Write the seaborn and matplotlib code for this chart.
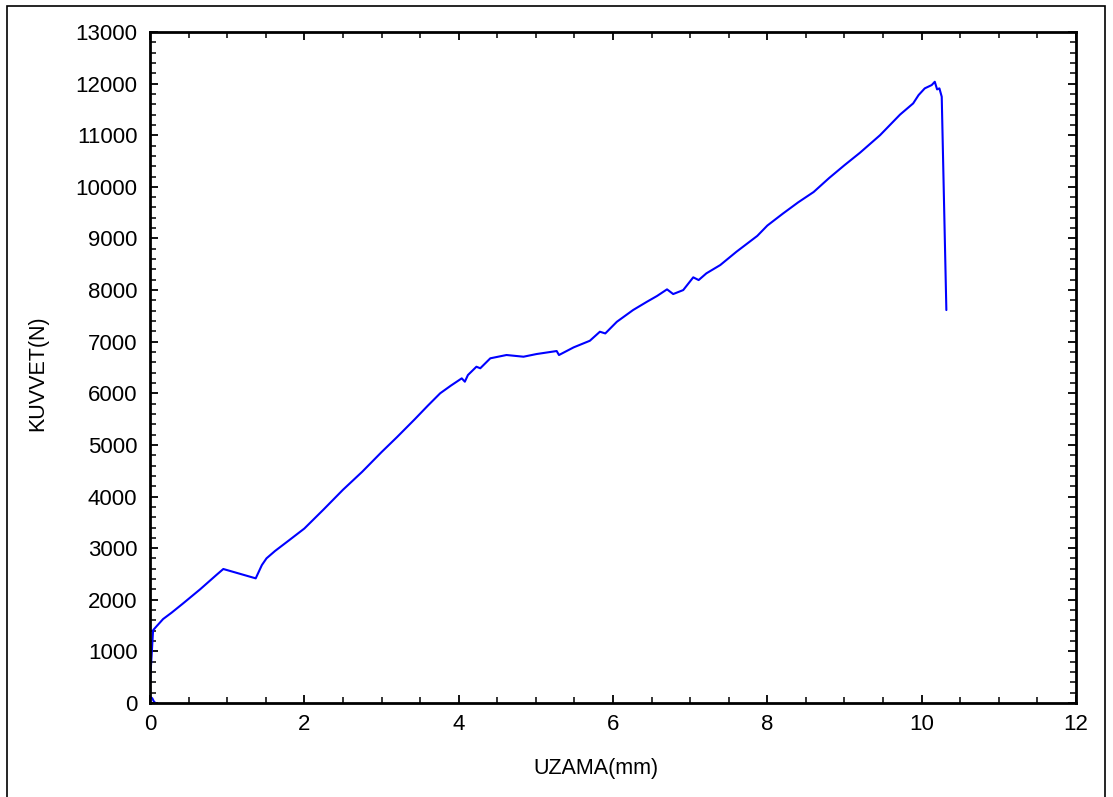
import matplotlib
matplotlib.use("Agg")
import matplotlib.pyplot as plt
from matplotlib.patches import Rectangle
from matplotlib.ticker import MultipleLocator
import numpy as np
import pandas as pd
import seaborn as sns

# Tensile test record: elongation (mm) vs. force (N)
uzama_mm = [
    0.07, 0.05, 0.03, 0.00, 0.00, 0.02, 0.04, 0.08, 0.17, 0.28, 0.43, 0.65,
    0.86, 0.95, 1.37, 1.40, 1.45, 1.51, 1.62, 1.80, 2.00, 2.25, 2.50, 2.75,
    3.00, 3.20, 3.43, 3.60, 3.76, 3.90, 4.04, 4.08, 4.12, 4.23, 4.28, 4.41,
    4.62, 4.84, 5.01, 5.27, 5.30, 5.49, 5.70, 5.83, 5.90, 6.05, 6.26, 6.44,
    6.57, 6.70, 6.78, 6.91, 7.04, 7.11, 7.21, 7.39, 7.60, 7.87, 8.00, 8.20,
    8.40, 8.60, 8.80, 9.00, 9.20, 9.46, 9.72, 9.89, 9.96, 10.04, 10.13,
    10.17, 10.20, 10.23, 10.26, 10.32,
]
kuvvet_n = [
    0, 30, 90, 125, 410, 900, 1410, 1478, 1627, 1750, 1931, 2203,
    2480, 2596, 2415, 2512, 2673, 2803, 2945, 3150, 3380, 3750, 4130, 4480,
    4860, 5150, 5496, 5760, 6000, 6150, 6290, 6225, 6354, 6515, 6485, 6678,
    6742, 6709, 6761, 6819, 6742, 6890, 7018, 7193, 7160, 7386, 7613, 7774,
    7885, 8014, 7923, 8000, 8247, 8194, 8324, 8485, 8743, 9050, 9250, 9480,
    9700, 9900, 10170, 10420, 10660, 11000, 11400, 11617, 11778, 11908, 11972,
    12036, 11888, 11908, 11746, 7613,
]

x_ticks = [0, 2, 4, 6, 8, 10, 12]
y_ticks = list(range(0, 13001, 1000))

df = pd.DataFrame({"UZAMA(mm)": uzama_mm, "KUVVET(N)": kuvvet_n})

sns.set_theme(style="white")
plt.rcParams["font.family"] = ["Liberation Sans", "DejaVu Sans"]

fig = plt.figure(figsize=(11.13, 7.97), dpi=100)
ax = fig.add_axes([150 / 1113, 94 / 797, 926 / 1113, 671 / 797])

sns.lineplot(data=df, x="UZAMA(mm)", y="KUVVET(N)", ax=ax, sort=False,
             estimator=None, color="#0000ff", linewidth=1.5)

ax.set_xlim(0, 12)
ax.set_ylim(0, 13000)
ax.set_xticks(x_ticks)
ax.set_yticks(y_ticks)
ax.set_xticklabels([str(v) for v in x_ticks])
ax.set_yticklabels([str(v) for v in y_ticks])
ax.xaxis.set_minor_locator(MultipleLocator(0.5))
ax.yaxis.set_minor_locator(MultipleLocator(200))

ax.tick_params(axis="both", which="major", direction="in", length=6, width=1.3,
               color="black", labelsize=16, labelcolor="black",
               top=True, right=True, bottom=True, left=True)
ax.tick_params(axis="x", which="major", pad=8)
ax.tick_params(axis="y", which="major", pad=9)
ax.tick_params(axis="both", which="minor", direction="in", length=4, width=1.1,
               color="black", top=True, right=True, bottom=True, left=True)

for side in ax.spines.values():
    side.set_visible(True)
    side.set_color("black")
    side.set_linewidth(2.0)

ax.set_xlabel("UZAMA(mm)", fontsize=15.5, color="black")
ax.set_ylabel("KUVVET(N)", fontsize=15.5, color="black")
ax.xaxis.set_label_coords(0.482, -0.082)
ax.yaxis.set_label_coords(-0.110, 0.492)
ax.grid(False)

# Frame around the whole figure
fig.patches.append(Rectangle((7 / 1113, -0.05), (1105 - 7) / 1113,
                             (797 - 6) / 797 + 0.05, transform=fig.transFigure,
                             fill=False, edgecolor="black", linewidth=1.2))

fig.savefig("out.png", dpi=100, facecolor="white")
